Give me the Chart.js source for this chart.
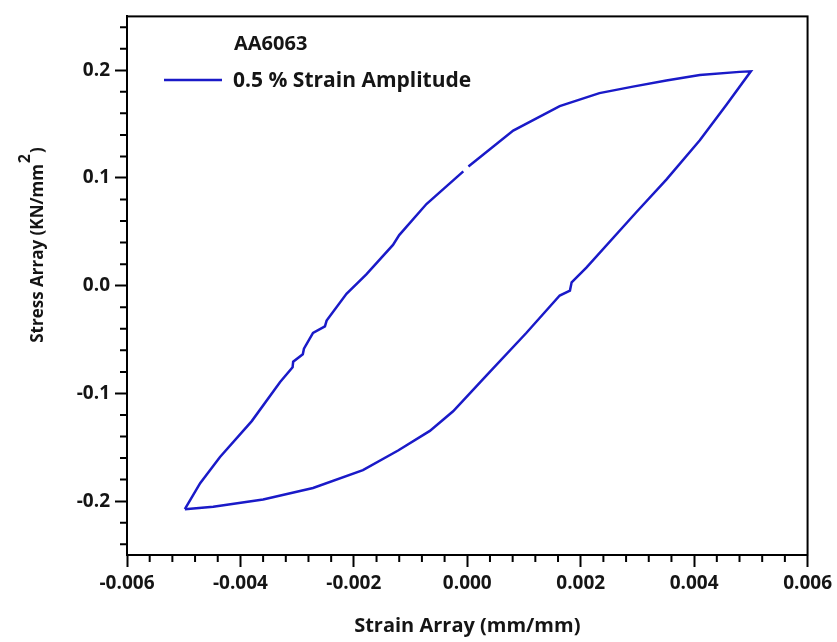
<!DOCTYPE html>
<html>
<head>
<meta charset="utf-8">
<script src="https://cdn.jsdelivr.net/npm/chart.js@4/dist/chart.umd.min.js"></script>
<style>
  body { margin: 0; background: #fff; }
  #wrap { width: 837px; height: 642px; }
</style>
</head>
<body>
<div id="wrap"><canvas id="loopChart"></canvas></div>
<script>
// hysteresis loop (null = small gap in the trace)
const strain = [
    -0.00498, -0.00471, -0.00436, -0.0038, -0.0033, -0.00308, -0.00307, -0.0029, -0.00288,
    -0.00272, -0.00251, -0.00248, -0.00213, -0.00178, -0.00131, -0.0012, -0.00072, -0.00007,
    -0.00003, 0.00002, 0.00081, 0.00163, 0.00233, 0.00292, 0.00351, 0.0041, 0.0048, 0.005,
    0.00457, 0.0041, 0.00351, 0.00298, 0.0021, 0.00184, 0.00181, 0.00163, 0.00104, 0.00034,
    -0.00025, -0.00066, -0.00122, -0.00184, -0.00272, -0.0036, -0.00448, -0.00498
];
const stress = [
    -0.2075, -0.1833, -0.159, -0.1257, -0.0894, -0.0757, -0.0705, -0.0636, -0.0585,
    -0.0439, -0.0378, -0.0324, -0.0075, 0.0106, 0.0379, 0.047, 0.0758, 0.1061,
    null, 0.1106, 0.144, 0.1667, 0.1788, 0.1848, 0.1905, 0.1955, 0.1985, 0.199,
    0.168, 0.135, 0.0985, 0.0682, 0.0167, 0.0031, -0.0045, -0.0091, -0.0439, -0.0833,
    -0.1166, -0.1348, -0.153, -0.1712, -0.1878, -0.1985, -0.2051, -0.2075
];
const xTicks = [-0.006, -0.004, -0.002, 0, 0.002, 0.004, 0.006];
const yTicks = [-0.2, -0.1, 0, 0.1, 0.2];
const seriesLabel = '0.5 % Strain Amplitude';
const legendTitle = 'AA6063';

const lineColor = 'rgb(26, 26, 200)';
const textColor = '#151515';
const fontFamily = '"Open Sans", "DejaVu Sans", sans-serif';

// frame, minor ticks, y title with superscript, legend
const extras = {
    id: 'extras',
    afterDraw(chart) {
        const ctx = chart.ctx;
        const a = chart.chartArea;
        const xs = chart.scales.x, ys = chart.scales.y;
        ctx.save();
        ctx.strokeStyle = '#000';
        ctx.lineWidth = 2;
        ctx.strokeRect(a.left, a.top, a.right - a.left, a.bottom - a.top);

        ctx.beginPath();
        for (let i = -14; i <= 14; i++) {
            if (i % 5 === 0) continue;
            const px = xs.getPixelForValue(i * 0.0004);
            ctx.moveTo(px, a.bottom);
            ctx.lineTo(px, a.bottom + 7);
        }
        for (let i = -12; i <= 12; i++) {
            if (i % 5 === 0) continue;
            const py = ys.getPixelForValue(i * 0.02);
            ctx.moveTo(a.left, py);
            ctx.lineTo(a.left - 7, py);
        }
        ctx.stroke();

        // y axis title
        ctx.fillStyle = textColor;
        ctx.translate(38, 245);
        ctx.rotate(-Math.PI / 2);
        ctx.font = 'bold 17px ' + fontFamily;
        ctx.textBaseline = 'middle';
        const main = 'Stress Array (KN/mm';
        const wMain = ctx.measureText(main).width;
        ctx.font = 'bold 16px ' + fontFamily;
        const wSup = ctx.measureText('2').width;
        ctx.font = 'bold 17px ' + fontFamily;
        const wEnd = ctx.measureText(')').width;
        let start = -(wMain + wSup + 2 + wEnd) / 2;
        ctx.textAlign = 'left';
        ctx.fillText(main, start, 0);
        ctx.font = 'bold 16px ' + fontFamily;
        ctx.fillText('2', start + wMain + 1, -13);
        ctx.font = 'bold 17px ' + fontFamily;
        ctx.fillText(')', start + wMain + wSup + 2, 0);
        ctx.restore();

        // legend
        ctx.save();
        const ds = chart.data.datasets[0];
        ctx.fillStyle = textColor;
        ctx.textBaseline = 'middle';
        ctx.textAlign = 'left';
        ctx.font = 'bold 20px ' + fontFamily;
        ctx.fillText(legendTitle, 234, 44);
        ctx.font = 'bold 21px ' + fontFamily;
        ctx.fillText(ds.label, 233, 81);
        ctx.strokeStyle = ds.borderColor;
        ctx.lineWidth = 2.5;
        ctx.beginPath();
        ctx.moveTo(164, 80);
        ctx.lineTo(222, 80);
        ctx.stroke();
        ctx.restore();
    }
};

const ctx = document.getElementById('loopChart').getContext('2d');
const loopChart = new Chart(ctx, {
    type: 'line',
    data: {
        datasets: [{
            label: seriesLabel,
            data: strain.map((s, i) => ({ x: s, y: stress[i] })),
            borderColor: lineColor,
            borderWidth: 2.5,
            pointRadius: 0,
            fill: false,
            tension: 0,
            spanGaps: false
        }]
    },
    options: {
        responsive: true,
        maintainAspectRatio: false,
        animation: false,
        layout: { padding: { top: 7, right: 29, left: 0, bottom: 0 } },
        plugins: {
            legend: { display: false },
            tooltip: { enabled: false }
        },
        scales: {
            x: {
                type: 'linear',
                min: -0.006,
                max: 0.006,
                afterBuildTicks: axis => { axis.ticks = xTicks.map(v => ({ value: v })); },
                afterFit: axis => { axis.height = 87; },
                grid: {
                    drawOnChartArea: false,
                    tickLength: 12,
                    tickWidth: 2,
                    tickColor: '#000'
                },
                border: { color: '#000', width: 2 },
                ticks: {
                    color: textColor,
                    padding: 5,
                    maxRotation: 0,
                    font: { family: fontFamily, size: 19, weight: 'bold' },
                    callback: v => v.toFixed(3)
                },
                title: {
                    display: true,
                    text: 'Strain Array (mm/mm)',
                    color: textColor,
                    padding: { top: 10 },
                    font: { family: fontFamily, size: 20, weight: 'bold' }
                }
            },
            y: {
                min: -0.25,
                max: 0.25,
                afterBuildTicks: axis => { axis.ticks = yTicks.map(v => ({ value: v })); },
                afterFit: axis => { axis.width = 127; },
                grid: {
                    drawOnChartArea: false,
                    tickLength: 12,
                    tickWidth: 2,
                    tickColor: '#000'
                },
                border: { color: '#000', width: 2 },
                ticks: {
                    color: textColor,
                    padding: 5,
                    font: { family: fontFamily, size: 19, weight: 'bold' },
                    callback: v => v.toFixed(1)
                }
            }
        }
    },
    plugins: [extras]
});
</script>
</body>
</html>
